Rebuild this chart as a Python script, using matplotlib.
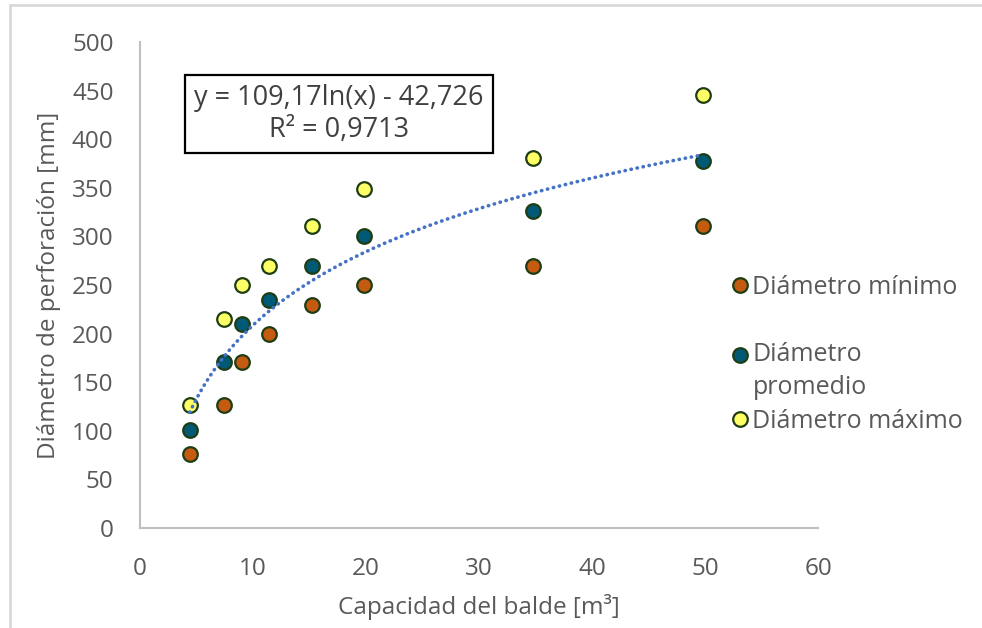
import numpy as np
import matplotlib
matplotlib.use('Agg')
import matplotlib.pyplot as plt
from matplotlib.lines import Line2D

plt.rcParams['font.family'] = ['Open Sans', 'DejaVu Sans']

# data
capacidad = [4.4, 7.4, 9.0, 11.4, 15.2, 19.8, 34.8, 49.8]  # m3
diam_min = [76, 127, 171, 200, 229, 250, 270, 311]
diam_prom = [101, 171, 210, 235, 270, 300, 326, 378]
diam_max = [127, 215, 250, 270, 311, 349, 381, 445]
# trendline coefficients (log fit of the mean series, as printed)
coef_a = 109.17
coef_b = -42.726
r2 = 0.9713

x_ticks = [0, 10, 20, 30, 40, 50, 60]
y_ticks = [0, 50, 100, 150, 200, 250, 300, 350, 400, 450, 500]

col_min = '#C55A11'
col_prom = '#005A75'
col_max = '#FFFF66'
edge = '#1E3D14'
txt = '#595959'
#==============================================================================
fig = plt.figure(figsize=(9.82, 6.28), dpi=100)
ax = fig.add_axes([140/982, 1-528/628, (818-140)/982, (528-42)/628])

ms = 10.5
ax.plot(capacidad, diam_min, 'o', ms=ms, mfc=col_min, mec=edge, mew=1.6,
        label='Diámetro mínimo', zorder=3)
ax.plot(capacidad, diam_prom, 'o', ms=ms, mfc=col_prom, mec=edge, mew=1.6,
        label='\nDiámetro\npromedio', zorder=3)
ax.plot(capacidad, diam_max, 'o', ms=ms, mfc=col_max, mec=edge, mew=1.6,
        label='Diámetro máximo', zorder=3)

# log trendline
xt = np.linspace(min(capacidad), max(capacidad), 300)
ax.plot(xt, coef_a*np.log(xt) + coef_b, color='#4472C4', lw=2.6,
        linestyle=(0, (0.1, 1.6)), dash_capstyle='round', zorder=4)

ax.set_xlim(0, 60); ax.set_ylim(0, 500)
ax.set_xticks(x_ticks); ax.set_yticks(y_ticks)
for s in ['top', 'right']:
  ax.spines[s].set_visible(False)
for s in ['left', 'bottom']:
  ax.spines[s].set_color('#BFBFBF'); ax.spines[s].set_linewidth(1.5)
ax.tick_params(axis='both', length=0, labelsize=17.5, labelcolor=txt)
ax.tick_params(axis='y', pad=19)
ax.tick_params(axis='x', pad=21)

ax.set_xlabel('Capacidad del balde [m³]', fontsize=17.5, color=txt, labelpad=9)
ax.set_ylabel('Diámetro de perforación [mm]', fontsize=17.5, color=txt, labelpad=8)

ax.text((339-140)/678, 1-(114-42)/486,
        'y = 109,17ln(x) - 42,726\nR² = 0,9713', transform=ax.transAxes,
        ha='center', va='center', fontsize=19.5, color='#404040', linespacing=1.15,
        bbox=dict(boxstyle='square,pad=0.36', fc='white', ec='black', lw=1.6),
        zorder=5)

leg = ax.legend(loc='upper left', bbox_to_anchor=(715/982, 1-262/628),
                bbox_transform=fig.transFigure, frameon=False, fontsize=18,
                labelspacing=0.35, handletextpad=0.0, handlelength=1.0,
                borderpad=0, labelcolor=txt)
for t in leg.get_texts():
  t.set_linespacing(1.44)

# light chart border
fig.add_artist(Line2D([10/982, 10/982], [0, 1-5/628], color='#D9D9D9', lw=2))
fig.add_artist(Line2D([10/982, 1], [1-5/628, 1-5/628], color='#D9D9D9', lw=2))

fig.savefig('out.png', dpi=100)
